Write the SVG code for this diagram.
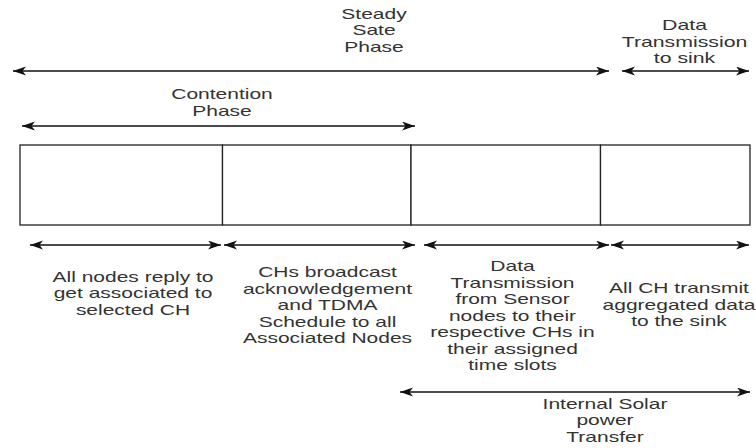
<svg xmlns="http://www.w3.org/2000/svg" width="756" height="448" viewBox="0 0 756 448">
<style>
.t{font-family:"Liberation Sans",Arial,sans-serif;font-size:14px;fill:#333;text-anchor:middle}
.c{stroke:#111;stroke-width:1.3;fill:none;marker-start:url(#ah);marker-end:url(#ah)}
.b{fill:#fff;stroke:#222;stroke-width:1.3}
</style>
<defs>
<marker id="ah" markerUnits="userSpaceOnUse" markerWidth="14" markerHeight="10" refX="13" refY="4.5" orient="auto-start-reverse" viewBox="0 0 14 10">
<path d="M0,0 L13,4.5 L0,9 L3.5,4.5 Z" fill="#111"/>
</marker>
</defs>
<g id="boxes">
<rect id="slot1" class="b" x="20" y="145" width="202.5" height="80"/>
<rect id="slot2" class="b" x="222.5" y="145" width="188.5" height="80"/>
<rect id="slot3" class="b" x="411" y="145" width="189.5" height="80"/>
<rect id="slot4" class="b" x="600.5" y="145" width="149.5" height="80"/>
</g>
<g id="connectors">
<line class="c" x1="13" y1="71" x2="609" y2="71"/>
<line class="c" x1="622" y1="71" x2="749" y2="71"/>
<line class="c" x1="22" y1="126" x2="415" y2="126"/>
<line class="c" x1="30" y1="245" x2="221" y2="245"/>
<line class="c" x1="224" y1="245" x2="415" y2="245"/>
<line class="c" x1="424" y1="245" x2="609" y2="245"/>
<line class="c" x1="611" y1="245" x2="749" y2="245"/>
<line class="c" x1="400" y1="392" x2="750" y2="392"/>
</g>
<g id="steady">
<g transform="translate(374,0) scale(1.5,1)"><text class="t"><tspan x="0" y="19">Steady</tspan><tspan x="0" y="35.5">Sate</tspan><tspan x="0" y="52">Phase</tspan></text></g>
</g>
<g id="tosink">
<g transform="translate(684.5,0) scale(1.52,1)"><text class="t"><tspan x="0" y="30">Data</tspan><tspan x="0" y="47">Transmission</tspan><tspan x="0" y="63.5">to sink</tspan></text></g>
</g>
<g id="contention">
<g transform="translate(222,0) scale(1.5,1)"><text class="t"><tspan x="0" y="99">Contention</tspan><tspan x="0" y="116">Phase</tspan></text></g>
</g>
<g id="label1">
<g transform="translate(133,0) scale(1.5,1)"><text class="t"><tspan x="0" y="282">All nodes reply to</tspan><tspan x="0" y="298.5">get associated to</tspan><tspan x="0" y="315">selected CH</tspan></text></g>
</g>
<g id="label2">
<g transform="translate(327.5,0) scale(1.5,1)"><text class="t"><tspan x="0" y="277.5">CHs broadcast</tspan><tspan x="0" y="294">acknowledgement</tspan><tspan x="0" y="310.5">and TDMA</tspan><tspan x="0" y="327">Schedule to all</tspan><tspan x="0" y="343.5">Associated Nodes</tspan></text></g>
</g>
<g id="label3">
<g transform="translate(512.5,0) scale(1.5,1)"><text class="t"><tspan x="0" y="271.5">Data</tspan><tspan x="0" y="288">Transmission</tspan><tspan x="0" y="304.5">from Sensor</tspan><tspan x="0" y="321">nodes to their</tspan><tspan x="0" y="337.5">respective CHs in</tspan><tspan x="0" y="354">their assigned</tspan><tspan x="0" y="370.5">time slots</tspan></text></g>
</g>
<g id="label4">
<g transform="translate(679,0) scale(1.5,1)"><text class="t"><tspan x="0" y="293.5">All CH transmit</tspan><tspan x="0" y="310">aggregated data</tspan><tspan x="0" y="326.5">to the sink</tspan></text></g>
</g>
<g id="solar">
<g transform="translate(605,0) scale(1.5,1)"><text class="t"><tspan x="0" y="409">Internal Solar</tspan><tspan x="0" y="425.5">power</tspan><tspan x="0" y="442">Transfer</tspan></text></g>
</g>
</svg>
